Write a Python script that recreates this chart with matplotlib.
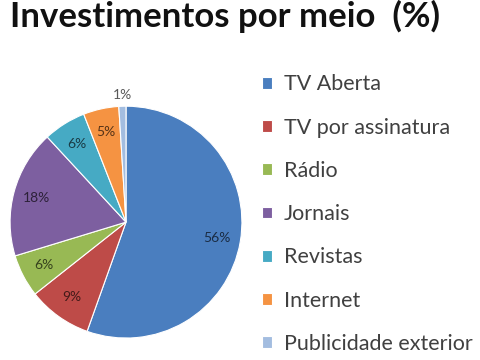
import matplotlib
matplotlib.use("Agg")
import matplotlib.pyplot as plt
import numpy as np
from matplotlib.colors import to_rgb

plt.rcParams['font.family'] = ['Lato', 'DejaVu Sans']

title = "Investimentos por meio  (%)"
names = ["TV Aberta", "TV por assinatura", "Rádio", "Jornais",
         "Revistas", "Internet", "Publicidade exterior"]
values = [56, 9, 6, 18, 6, 5, 1]
colors = ["#4A7EBF", "#BE4B48", "#98B954", "#7D5FA0",
          "#46AAC4", "#F59342", "#A3BDE0"]

fig = plt.figure(figsize=(4.8, 3.6), dpi=100)
ax = fig.add_axes([0.021, 0.061, 0.483, 0.644])

# small slice gets its label outside, the rest inside
outer = [f"{v}%" if v < 3 else "" for v in values]
inner = [f"{v}%" if v >= 3 else "" for v in values]

wedges, texts = ax.pie(values, colors=colors, startangle=90, counterclock=False,
                       labels=outer, labeldistance=1.1,
                       wedgeprops=dict(edgecolor="white", linewidth=0.8),
                       textprops=dict(fontsize=10, color="#595959"))
for t in texts:
    t.set_ha("center")

for w, lab, c in zip(wedges, inner, colors):
    if not lab:
        continue
    ang = np.deg2rad((w.theta1 + w.theta2) / 2)
    dark = tuple(x * 0.35 for x in to_rgb(c))
    ax.text(0.8 * np.cos(ang), 0.8 * np.sin(ang), lab, ha="center", va="center",
            fontsize=10, color=dark)

ax.set_xlim(-1, 1)
ax.set_ylim(-1, 1)
ax.set_aspect("equal")

fig.text(0.02, 0.925, title, fontsize=25, fontweight="bold", color="#111111",
         va="baseline", ha="left")

fig.legend(wedges, names, loc="center left", bbox_to_anchor=(0.546, 0.405),
           frameon=False, fontsize=15.5, labelspacing=1.08, handlelength=0.45,
           handleheight=0.45, handletextpad=0.55, borderpad=0, borderaxespad=0,
           labelcolor="#404040")

fig.savefig("out.png", dpi=100)
